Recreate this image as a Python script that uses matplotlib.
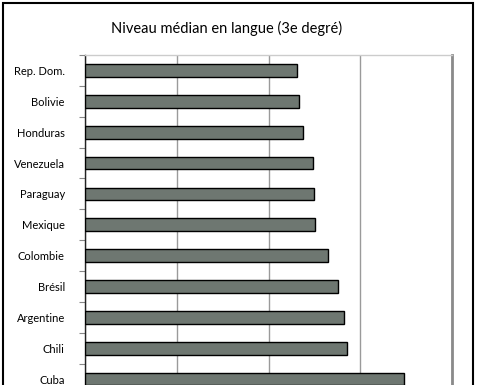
import matplotlib
matplotlib.use("Agg")
import matplotlib.pyplot as plt
from matplotlib.patches import Rectangle

plt.rcParams['font.family'] = ['Lato', 'DejaVu Sans']

# Data (axis 0..4 units, gridline every unit)
pays = ['Rep. Dom.', 'Bolivie', 'Honduras', 'Venezuela', 'Paraguay', 'Mexique',
        'Colombie', 'Brésil', 'Argentine', 'Chili', 'Cuba']
niveau = [2.31, 2.33, 2.38, 2.49, 2.50, 2.51, 2.65, 2.76, 2.82, 2.86, 3.48]
grille = [0, 1, 2, 3, 4]

fig = plt.figure(figsize=(4.78, 3.85), dpi=100)
ax = fig.add_axes([85 / 478, 1 - 394.6 / 385, (452 - 85) / 478, 394.6 / 385 - 55 / 385])

pos = list(range(len(pays)))
ax.barh(pos, niveau, height=0.41, color='#6e7771', edgecolor='black', linewidth=1, zorder=3)

ax.set_xlim(0, 4)
ax.set_ylim(len(pays) - 0.5, -0.5)
ax.set_xticks(grille)
ax.set_xticklabels([])
ax.tick_params(axis='x', length=0)
ax.grid(axis='x', color='#9a9a9a', linewidth=1, zorder=0)

ax.set_yticks(pos)
ax.set_yticklabels(pays, fontsize=8)
ax.tick_params(axis='y', which='major', length=0, pad=14.5)
ax.set_yticks([p + 0.5 for p in pos[:-1]] + [-0.5], minor=True)
ax.tick_params(axis='y', which='minor', length=4, color='#888888', width=0.8)

ax.spines['left'].set_color('#222222')
ax.spines['left'].set_linewidth(1)
ax.spines['top'].set_color('#cccccc')
ax.spines['top'].set_linewidth(1)
ax.spines['right'].set_color('#8a8a8a')
ax.spines['right'].set_linewidth(2)
ax.spines['bottom'].set_visible(False)

fig.text(227 / 478, 1 - 28 / 385, 'Niveau médian en langue (3e degré)',
         ha='center', va='center', fontsize=10.5)

# outer frame of the original chart box
fig.patches.append(Rectangle((3 / 478, -0.2), 470 / 478, 1.2 - 3 / 385,
                             transform=fig.transFigure, fill=False,
                             edgecolor='black', linewidth=1.5))

fig.savefig('out.png', dpi=100)
